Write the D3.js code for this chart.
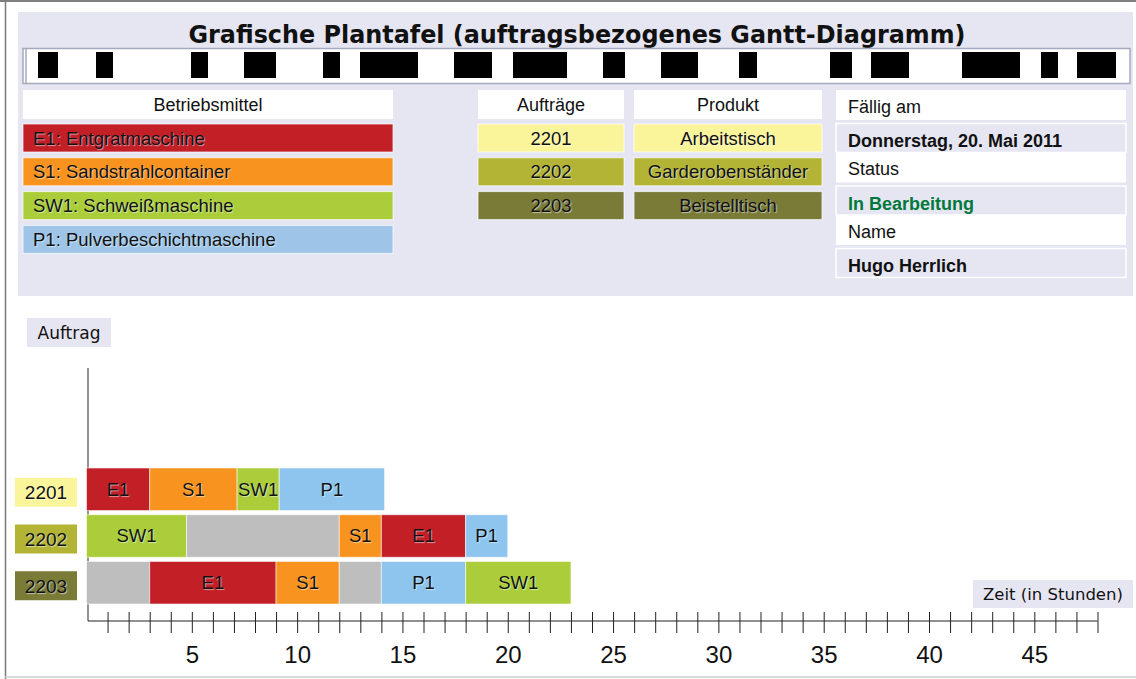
<!DOCTYPE html>
<html>
<head>
<meta charset="utf-8">
<script src="https://cdn.jsdelivr.net/npm/d3@7"></script>
<style>
body { margin: 0; background: #fff; }
text { font-family: "Liberation Sans", Arial, sans-serif; fill: #111; }
.shadow { text-shadow: 1px 1px 1px rgba(255,255,255,0.55); }
</style>
</head>
<body>
<div id="chart"></div>
<script>
// Betriebsmittel
var machineIds = ["E1", "S1", "SW1", "P1"];
var machineNames = ["Entgratmaschine", "Sandstrahlcontainer", "Schweißmaschine", "Pulverbeschichtmaschine"];

// Aufträge und Produkte
var orderIds = ["2201", "2202", "2203"];
var productNames = ["Arbeitstisch", "Garderobenständer", "Beistelltisch"];

// Arbeitsgänge je Auftrag: [Beginn, Ende, Betriebsmittel] in Stunden, null = Wartezeit
var order2201 = [[0, 3, "E1"], [3, 7.15, "S1"], [7.15, 9.15, "SW1"], [9.15, 14.15, "P1"]];
var order2202 = [[0, 4.75, "SW1"], [4.75, 12, null], [12, 14, "S1"], [14, 18, "E1"], [18, 20, "P1"]];
var order2203 = [[0, 3, null], [3, 9, "E1"], [9, 12, "S1"], [12, 14, null], [14, 18, "P1"], [18, 23, "SW1"]];
var orderTasks = [order2201, order2202, order2203];

// Zeitachse
var hourTicks = d3.range(1, 49);
var hourLabels = [5, 10, 15, 20, 25, 30, 35, 40, 45];

// Kopfdaten
var infoLabels = ["Fällig am", "Status", "Name"];
var infoValues = ["Donnerstag, 20. Mai 2011", "In Bearbeitung", "Hugo Herrlich"];

// geschwärzte Felder in der Kopfzeile (x-Bereiche)
var redactions = [[38,58],[96,113],[191,208],[244,276],[323,340],[360,418],[454,492],[513,567],
                  [603,625],[661,698],[739,757],[830,852],[871,909],[962,1020],[1041,1058],[1077,1116]];

var W = 1136, H = 679;

var machineColor = d3.scaleOrdinal()
    .domain(machineIds)
    .range(["#c21f27", "#f7931e", "#aacd39", "#9ec5e8"]);
var barColor = d3.scaleOrdinal()
    .domain(machineIds)
    .range(["#c21f27", "#f7931e", "#aacd39", "#8dc5ee"]);
var orderColor = d3.scaleOrdinal()
    .domain(orderIds)
    .range(["#faf59b", "#b3b336", "#7b7b38"]);
var WAIT = "#bebebe";
var LAVENDER = "#e6e6f3";

var svg = d3.select("#chart").append("svg")
    .attr("width", W)
    .attr("height", H);

// Rahmen der Seite
svg.append("line").attr("x1", 0).attr("x2", W).attr("y1", 1).attr("y2", 1)
    .style("stroke", "#555").style("stroke-width", 1.5);
svg.append("line").attr("x1", 5.5).attr("x2", 5.5).attr("y1", 0).attr("y2", H)
    .style("stroke", "#7a7a7a").style("stroke-width", 1.5);
svg.append("line").attr("x1", 5).attr("x2", W).attr("y1", 677).attr("y2", 677)
    .style("stroke", "#cfcfcf").style("stroke-width", 1.5);

// ---------- Kopfbereich ----------
var header = svg.append("g").attr("class", "header");

header.append("rect")
    .attr("x", 18).attr("y", 12)
    .attr("width", 1115).attr("height", 284)
    .style("fill", LAVENDER);

header.append("text")
    .text("Grafische Plantafel (auftragsbezogenes Gantt-Diagramm)")
    .attr("x", 577).attr("y", 43)
    .attr("text-anchor", "middle")
    .attr("textLength", 777)
    .attr("lengthAdjust", "spacingAndGlyphs")
    .style("font-family", "'DejaVu Sans', Verdana, sans-serif")
    .style("font-weight", "bold")
    .style("font-size", "25px");

header.append("rect")
    .attr("x", 23).attr("y", 48.5)
    .attr("width", 1107).attr("height", 35)
    .style("fill", "#fff")
    .style("stroke", "#a3abbd")
    .style("stroke-width", 1.5);
header.append("line")
    .attr("x1", 26).attr("x2", 26).attr("y1", 49).attr("y2", 83)
    .style("stroke", "#a3abbd").style("stroke-width", 1.5);

header.selectAll(".redaction")
    .data(redactions)
    .enter().append("rect")
    .attr("class", "redaction")
    .attr("x", function(d) { return d[0]; })
    .attr("width", function(d) { return d[1] - d[0]; })
    .attr("y", 52).attr("height", 26)
    .style("fill", "#000");

// Betriebsmittel-Legende
header.append("rect")
    .attr("x", 23).attr("y", 90).attr("width", 370).attr("height", 29)
    .style("fill", "#fff");
header.append("text")
    .text("Betriebsmittel")
    .attr("x", 208).attr("y", 111)
    .attr("text-anchor", "middle")
    .style("font-size", "18px");

var legendRows = header.selectAll(".machine")
    .data(machineIds)
    .enter().append("g")
    .attr("class", "machine")
    .attr("transform", function(d, i) { return "translate(23," + (124 + i * 33.8) + ")"; });
legendRows.append("rect")
    .attr("width", 370).attr("height", 28)
    .style("fill", function(d) { return machineColor(d); })
    .style("stroke", "rgba(255,255,255,0.7)");
legendRows.append("text")
    .attr("class", "shadow")
    .text(function(d, i) { return d + ": " + machineNames[i]; })
    .attr("x", 10).attr("y", 20.5)
    .style("font-size", "18.5px");

// Aufträge / Produkt
function tableColumn(x, w, title, values) {
    header.append("rect")
        .attr("x", x).attr("y", 90).attr("width", w).attr("height", 29)
        .style("fill", "#fff");
    header.append("text")
        .text(title)
        .attr("x", x + w / 2).attr("y", 111)
        .attr("text-anchor", "middle")
        .style("font-size", "18px");
    var rows = header.selectAll(".col" + x)
        .data(values)
        .enter().append("g")
        .attr("class", "col" + x)
        .attr("transform", function(d, i) { return "translate(" + x + "," + (124 + i * 33.8) + ")"; });
    rows.append("rect")
        .attr("width", w).attr("height", 28)
        .style("fill", function(d, i) { return orderColor(orderIds[i]); })
        .style("stroke", "rgba(255,255,255,0.7)");
    rows.append("text")
        .attr("class", "shadow")
        .text(function(d) { return d; })
        .attr("x", w / 2).attr("y", 20.5)
        .attr("text-anchor", "middle")
        .style("font-size", "18.5px");
}
tableColumn(478, 146, "Aufträge", orderIds);
tableColumn(634, 188, "Produkt", productNames);

// Fällig am / Status / Name
var info = header.selectAll(".info")
    .data(infoLabels)
    .enter().append("g")
    .attr("class", "info")
    .attr("transform", function(d, i) { return "translate(836," + (90 + i * 62.5) + ")"; });
info.append("rect")
    .attr("width", 290).attr("height", 30)
    .style("fill", "#fff");
info.append("text")
    .text(function(d) { return d; })
    .attr("x", 12).attr("y", 22.5)
    .style("font-size", "18px");
info.append("rect")
    .attr("y", 33.5).attr("width", 290).attr("height", 29)
    .style("fill", LAVENDER)
    .style("stroke", "#fff")
    .style("stroke-width", 1.5);
info.append("text")
    .text(function(d, i) { return infoValues[i]; })
    .attr("x", 12).attr("y", 57)
    .style("font-size", "18px")
    .style("font-weight", "bold")
    .style("fill", function(d, i) { return i == 1 ? "#00783c" : "#111"; });

// ---------- Gantt-Diagramm ----------
var x = d3.scaleLinear()
    .domain([0, 48])
    .range([86.5, 1097.5]);

var y = d3.scaleBand()
    .domain(orderIds)
    .range([468, 604])
    .paddingInner(0.09);

var axisY = 621;

// y-Achse
svg.append("line")
    .attr("x1", x(0) + 1.5).attr("x2", x(0) + 1.5)
    .attr("y1", 368).attr("y2", axisY)
    .style("stroke", "#6e6e6e")
    .style("stroke-width", 1.5);

svg.append("rect")
    .attr("x", 27).attr("y", 318).attr("width", 84).attr("height", 29)
    .style("fill", LAVENDER);
svg.append("text")
    .text("Auftrag")
    .attr("x", 69).attr("y", 339)
    .attr("text-anchor", "middle")
    .style("font-family", "'DejaVu Sans', Verdana, sans-serif")
    .style("font-size", "17px");

// Balken
var rows = svg.selectAll(".order")
    .data(orderIds)
    .enter().append("g")
    .attr("class", "order")
    .attr("transform", function(d) { return "translate(0," + y(d) + ")"; });

var segs = rows.selectAll(".task")
    .data(function(d, i) { return orderTasks[i]; })
    .enter().append("g")
    .attr("class", "task");
segs.append("rect")
    .attr("x", function(d) { return x(d[0]); })
    .attr("width", function(d) { return x(d[1]) - x(d[0]); })
    .attr("height", y.bandwidth())
    .style("fill", function(d) { return d[2] ? barColor(d[2]) : WAIT; })
    .style("stroke", "rgba(255,255,255,0.55)")
    .style("stroke-width", 1);
segs.filter(function(d) { return d[2]; })
    .append("text")
    .attr("class", "shadow")
    .text(function(d) { return d[2]; })
    .attr("x", function(d) { return (x(d[0]) + x(d[1])) / 2; })
    .attr("y", y.bandwidth() / 2 + 6.5)
    .attr("text-anchor", "middle")
    .style("font-size", "18.5px");

// Auftragsnummern links
var labels = svg.selectAll(".orderLabel")
    .data(orderIds)
    .enter().append("g")
    .attr("class", "orderLabel")
    .attr("transform", function(d) { return "translate(15," + (y(d) + y.bandwidth() / 2 + 3 - 14.5) + ")"; });
labels.append("rect")
    .attr("width", 62).attr("height", 29)
    .style("fill", function(d) { return orderColor(d); });
labels.append("text")
    .attr("class", "shadow")
    .text(function(d) { return d; })
    .attr("x", 31).attr("y", 21.5)
    .attr("text-anchor", "middle")
    .style("font-size", "19px");

// Zeitachse
var xAxis = d3.axisBottom(x)
    .tickValues(hourTicks)
    .tickSizeInner(12)
    .tickSizeOuter(0)
    .tickFormat(function(d) { return hourLabels.indexOf(d) >= 0 ? d : ""; });

var axisG = svg.append("g")
    .attr("class", "x-axis")
    .attr("transform", "translate(0," + axisY + ")")
    .call(xAxis);
axisG.select(".domain")
    .attr("d", "M" + (x(0) + 1.5) + ",0H" + x(48))
    .style("stroke", "#222")
    .style("stroke-width", 1.2);
axisG.selectAll(".tick line")
    .attr("y1", -9)
    .attr("y2", 12)
    .style("stroke", "#222");
axisG.selectAll(".tick text")
    .attr("y", 25)
    .style("font-family", "'Liberation Sans', Arial, sans-serif")
    .style("font-size", "24px")
    .style("fill", "#111");

svg.append("rect")
    .attr("x", 973).attr("y", 580).attr("width", 160).attr("height", 28)
    .style("fill", LAVENDER);
svg.append("text")
    .text("Zeit (in Stunden)")
    .attr("x", 1053).attr("y", 600)
    .attr("text-anchor", "middle")
    .style("font-family", "'DejaVu Sans', Verdana, sans-serif")
    .style("font-size", "16.5px");
</script>
</body>
</html>
